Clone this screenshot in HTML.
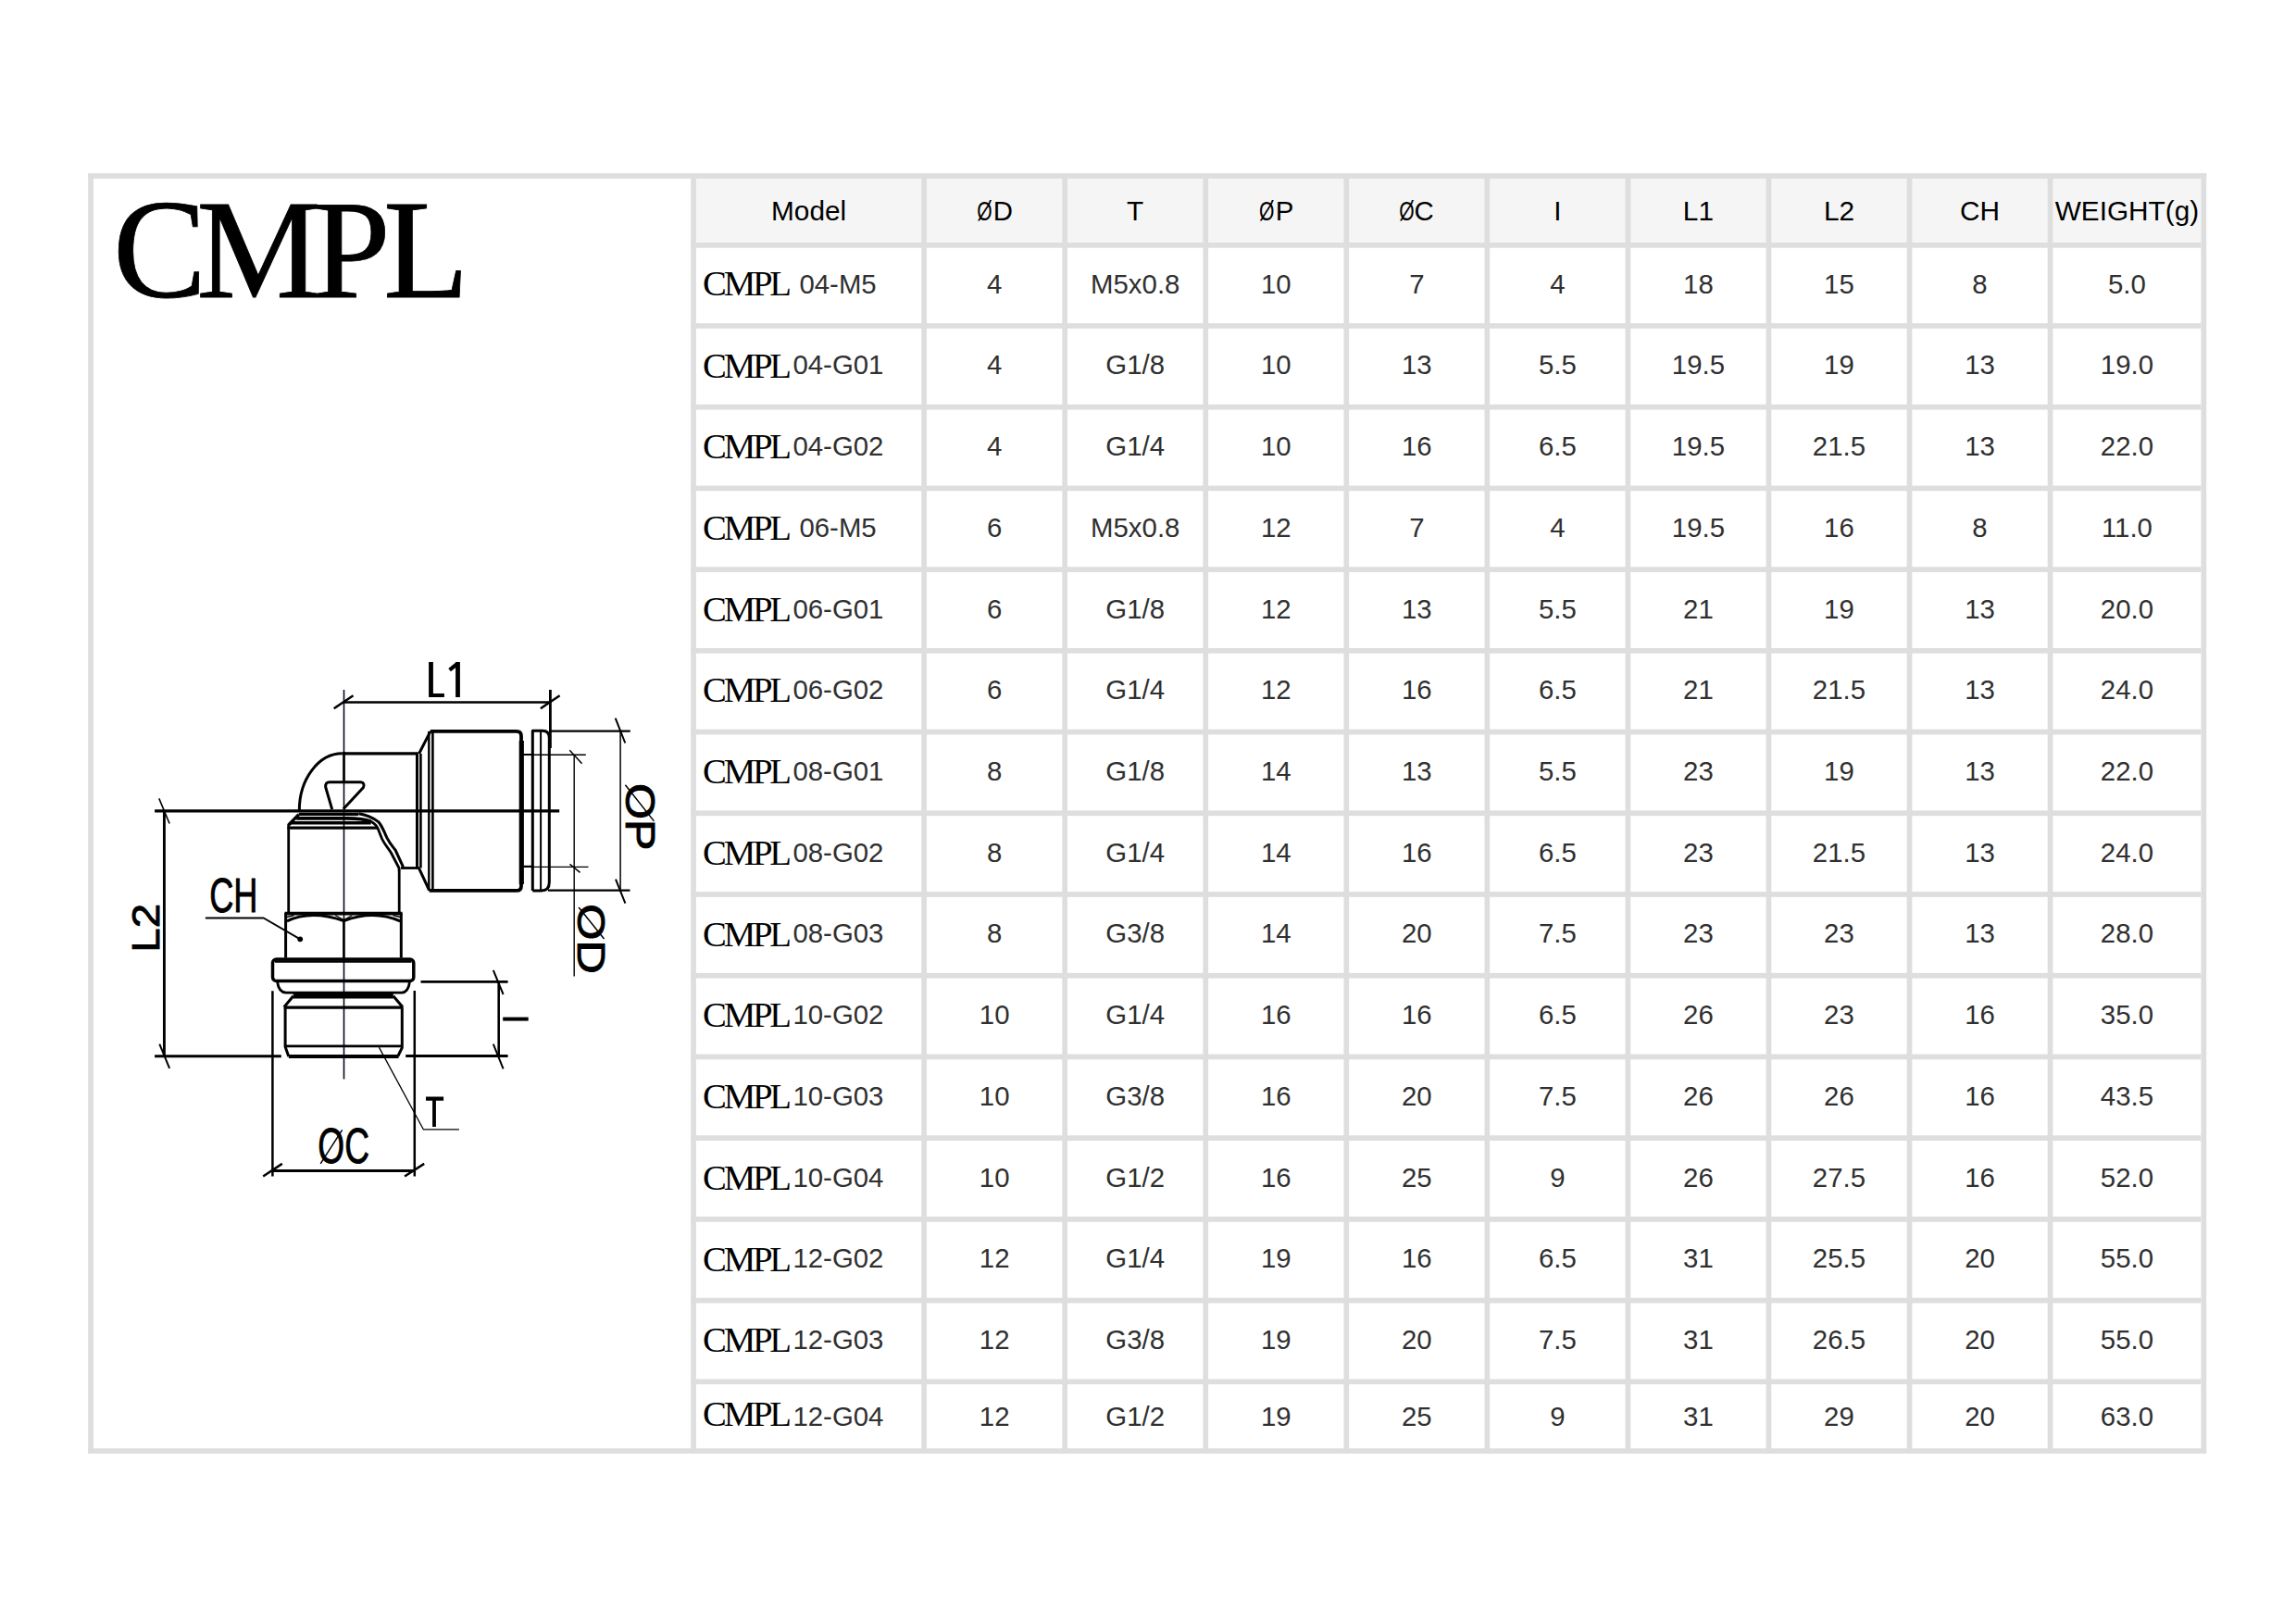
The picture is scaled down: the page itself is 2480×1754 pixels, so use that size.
<!DOCTYPE html>
<html><head><meta charset="utf-8"><title>CMPL</title>
<style>
html,body{margin:0;padding:0;background:#fff;}
body{width:2480px;height:1754px;overflow:hidden;position:relative;}
svg{position:absolute;left:0;top:0;}
.s{font-family:"Liberation Sans",sans-serif;}
.r{font-family:"Liberation Serif",serif;}
</style></head><body>
<svg width="2480" height="1754" viewBox="0 0 2480 1754">

<rect x="751.9" y="192.9" width="1625.6" height="69.1" fill="#f5f5f5"/>
<rect x="95.2" y="187.2" width="2288" height="5.7" fill="#dedede"/>
<rect x="95.2" y="1564.3" width="2288" height="5.7" fill="#dedede"/>
<rect x="95.2" y="187.2" width="5.7" height="1382.8" fill="#dedede"/>
<rect x="2377.5" y="187.2" width="5.7" height="1382.8" fill="#dedede"/>
<rect x="746.2" y="187.2" width="5.7" height="1382.8" fill="#dedede"/>
<rect x="995.3" y="187.2" width="5.7" height="1382.8" fill="#dedede"/>
<rect x="1147.35" y="187.2" width="5.7" height="1382.8" fill="#dedede"/>
<rect x="1299.4" y="187.2" width="5.7" height="1382.8" fill="#dedede"/>
<rect x="1451.45" y="187.2" width="5.7" height="1382.8" fill="#dedede"/>
<rect x="1603.5" y="187.2" width="5.7" height="1382.8" fill="#dedede"/>
<rect x="1755.55" y="187.2" width="5.7" height="1382.8" fill="#dedede"/>
<rect x="1907.6" y="187.2" width="5.7" height="1382.8" fill="#dedede"/>
<rect x="2059.65" y="187.2" width="5.7" height="1382.8" fill="#dedede"/>
<rect x="2211.7" y="187.2" width="5.7" height="1382.8" fill="#dedede"/>
<rect x="746.2" y="262" width="1631.3" height="5.7" fill="#dedede"/>
<rect x="746.2" y="349.1" width="1631.3" height="5.7" fill="#dedede"/>
<rect x="746.2" y="436.82" width="1631.3" height="5.7" fill="#dedede"/>
<rect x="746.2" y="524.54" width="1631.3" height="5.7" fill="#dedede"/>
<rect x="746.2" y="612.26" width="1631.3" height="5.7" fill="#dedede"/>
<rect x="746.2" y="699.98" width="1631.3" height="5.7" fill="#dedede"/>
<rect x="746.2" y="787.7" width="1631.3" height="5.7" fill="#dedede"/>
<rect x="746.2" y="875.42" width="1631.3" height="5.7" fill="#dedede"/>
<rect x="746.2" y="963.14" width="1631.3" height="5.7" fill="#dedede"/>
<rect x="746.2" y="1050.86" width="1631.3" height="5.7" fill="#dedede"/>
<rect x="746.2" y="1138.58" width="1631.3" height="5.7" fill="#dedede"/>
<rect x="746.2" y="1226.3" width="1631.3" height="5.7" fill="#dedede"/>
<rect x="746.2" y="1314.02" width="1631.3" height="5.7" fill="#dedede"/>
<rect x="746.2" y="1401.74" width="1631.3" height="5.7" fill="#dedede"/>
<rect x="746.2" y="1489.46" width="1631.3" height="5.7" fill="#dedede"/>
<text class="r" x="122 212.2 337.5 414" y="321" font-size="151.5" fill="#000" stroke="#000" stroke-width="0.8">CMPL</text>
<text class="s" transform="translate(873.6,238.2) scale(1,1.02)" font-size="29.8" text-anchor="middle" fill="#000">Model</text>
<text class="s" transform="translate(1055.16,238.2) scale(0.718,1.02)" font-size="29.4" fill="#000">Ø</text>
<text class="s" transform="translate(1072.77,238.2) scale(1,1.02)" font-size="29.4" fill="#000">D</text>
<text class="s" transform="translate(1226.22,238.2) scale(1,1.02)" font-size="29.8" text-anchor="middle" fill="#000">T</text>
<text class="s" transform="translate(1360.06,238.2) scale(0.718,1.02)" font-size="29.4" fill="#000">Ø</text>
<text class="s" transform="translate(1377.67,238.2) scale(1,1.02)" font-size="29.4" fill="#000">P</text>
<text class="s" transform="translate(1511.16,238.2) scale(0.718,1.02)" font-size="29.4" fill="#000">Ø</text>
<text class="s" transform="translate(1527.4,238.2) scale(1,1.02)" font-size="29.4" fill="#000">C</text>
<text class="s" transform="translate(1682.38,238.2) scale(1,1.02)" font-size="29.8" text-anchor="middle" fill="#000">I</text>
<text class="s" transform="translate(1834.42,238.2) scale(1,1.02)" font-size="29.8" text-anchor="middle" fill="#000">L1</text>
<text class="s" transform="translate(1986.47,238.2) scale(1,1.02)" font-size="29.8" text-anchor="middle" fill="#000">L2</text>
<text class="s" transform="translate(2138.52,238.2) scale(1,1.02)" font-size="29.8" text-anchor="middle" fill="#000">CH</text>
<text class="s" transform="translate(2297.45,238.2) scale(1,1.02)" font-size="29.8" text-anchor="middle" fill="#000">WEIGHT(g)</text>
<text class="r" x="759" y="318.8" font-size="38.8" letter-spacing="-3.2" fill="#000">CMPL</text>
<text class="s" transform="translate(863.4,316.8) scale(1,1.02)" font-size="29.4" fill="#303030">04-M5</text>
<text class="s" transform="translate(1074.17,316.8) scale(1,1.02)" font-size="29.4" text-anchor="middle" fill="#303030">4</text>
<text class="s" transform="translate(1226.22,316.8) scale(1,1.02)" font-size="29.4" text-anchor="middle" fill="#303030">M5x0.8</text>
<text class="s" transform="translate(1378.28,316.8) scale(1,1.02)" font-size="29.4" text-anchor="middle" fill="#303030">10</text>
<text class="s" transform="translate(1530.33,316.8) scale(1,1.02)" font-size="29.4" text-anchor="middle" fill="#303030">7</text>
<text class="s" transform="translate(1682.38,316.8) scale(1,1.02)" font-size="29.4" text-anchor="middle" fill="#303030">4</text>
<text class="s" transform="translate(1834.42,316.8) scale(1,1.02)" font-size="29.4" text-anchor="middle" fill="#303030">18</text>
<text class="s" transform="translate(1986.47,316.8) scale(1,1.02)" font-size="29.4" text-anchor="middle" fill="#303030">15</text>
<text class="s" transform="translate(2138.52,316.8) scale(1,1.02)" font-size="29.4" text-anchor="middle" fill="#303030">8</text>
<text class="s" transform="translate(2297.45,316.8) scale(1,1.02)" font-size="29.4" text-anchor="middle" fill="#303030">5.0</text>
<text class="r" x="759" y="407.6" font-size="38.8" letter-spacing="-3.2" fill="#000">CMPL</text>
<text class="s" transform="translate(856.4,404.4) scale(1,1.02)" font-size="29.4" fill="#303030">04-G01</text>
<text class="s" transform="translate(1074.17,404.4) scale(1,1.02)" font-size="29.4" text-anchor="middle" fill="#303030">4</text>
<text class="s" transform="translate(1226.22,404.4) scale(1,1.02)" font-size="29.4" text-anchor="middle" fill="#303030">G1/8</text>
<text class="s" transform="translate(1378.28,404.4) scale(1,1.02)" font-size="29.4" text-anchor="middle" fill="#303030">10</text>
<text class="s" transform="translate(1530.33,404.4) scale(1,1.02)" font-size="29.4" text-anchor="middle" fill="#303030">13</text>
<text class="s" transform="translate(1682.38,404.4) scale(1,1.02)" font-size="29.4" text-anchor="middle" fill="#303030">5.5</text>
<text class="s" transform="translate(1834.42,404.4) scale(1,1.02)" font-size="29.4" text-anchor="middle" fill="#303030">19.5</text>
<text class="s" transform="translate(1986.47,404.4) scale(1,1.02)" font-size="29.4" text-anchor="middle" fill="#303030">19</text>
<text class="s" transform="translate(2138.52,404.4) scale(1,1.02)" font-size="29.4" text-anchor="middle" fill="#303030">13</text>
<text class="s" transform="translate(2297.45,404.4) scale(1,1.02)" font-size="29.4" text-anchor="middle" fill="#303030">19.0</text>
<text class="r" x="759" y="495.32" font-size="38.8" letter-spacing="-3.2" fill="#000">CMPL</text>
<text class="s" transform="translate(856.4,492.12) scale(1,1.02)" font-size="29.4" fill="#303030">04-G02</text>
<text class="s" transform="translate(1074.17,492.12) scale(1,1.02)" font-size="29.4" text-anchor="middle" fill="#303030">4</text>
<text class="s" transform="translate(1226.22,492.12) scale(1,1.02)" font-size="29.4" text-anchor="middle" fill="#303030">G1/4</text>
<text class="s" transform="translate(1378.28,492.12) scale(1,1.02)" font-size="29.4" text-anchor="middle" fill="#303030">10</text>
<text class="s" transform="translate(1530.33,492.12) scale(1,1.02)" font-size="29.4" text-anchor="middle" fill="#303030">16</text>
<text class="s" transform="translate(1682.38,492.12) scale(1,1.02)" font-size="29.4" text-anchor="middle" fill="#303030">6.5</text>
<text class="s" transform="translate(1834.42,492.12) scale(1,1.02)" font-size="29.4" text-anchor="middle" fill="#303030">19.5</text>
<text class="s" transform="translate(1986.47,492.12) scale(1,1.02)" font-size="29.4" text-anchor="middle" fill="#303030">21.5</text>
<text class="s" transform="translate(2138.52,492.12) scale(1,1.02)" font-size="29.4" text-anchor="middle" fill="#303030">13</text>
<text class="s" transform="translate(2297.45,492.12) scale(1,1.02)" font-size="29.4" text-anchor="middle" fill="#303030">22.0</text>
<text class="r" x="759" y="583.04" font-size="38.8" letter-spacing="-3.2" fill="#000">CMPL</text>
<text class="s" transform="translate(863.4,579.84) scale(1,1.02)" font-size="29.4" fill="#303030">06-M5</text>
<text class="s" transform="translate(1074.17,579.84) scale(1,1.02)" font-size="29.4" text-anchor="middle" fill="#303030">6</text>
<text class="s" transform="translate(1226.22,579.84) scale(1,1.02)" font-size="29.4" text-anchor="middle" fill="#303030">M5x0.8</text>
<text class="s" transform="translate(1378.28,579.84) scale(1,1.02)" font-size="29.4" text-anchor="middle" fill="#303030">12</text>
<text class="s" transform="translate(1530.33,579.84) scale(1,1.02)" font-size="29.4" text-anchor="middle" fill="#303030">7</text>
<text class="s" transform="translate(1682.38,579.84) scale(1,1.02)" font-size="29.4" text-anchor="middle" fill="#303030">4</text>
<text class="s" transform="translate(1834.42,579.84) scale(1,1.02)" font-size="29.4" text-anchor="middle" fill="#303030">19.5</text>
<text class="s" transform="translate(1986.47,579.84) scale(1,1.02)" font-size="29.4" text-anchor="middle" fill="#303030">16</text>
<text class="s" transform="translate(2138.52,579.84) scale(1,1.02)" font-size="29.4" text-anchor="middle" fill="#303030">8</text>
<text class="s" transform="translate(2297.45,579.84) scale(1,1.02)" font-size="29.4" text-anchor="middle" fill="#303030">11.0</text>
<text class="r" x="759" y="670.76" font-size="38.8" letter-spacing="-3.2" fill="#000">CMPL</text>
<text class="s" transform="translate(856.4,667.56) scale(1,1.02)" font-size="29.4" fill="#303030">06-G01</text>
<text class="s" transform="translate(1074.17,667.56) scale(1,1.02)" font-size="29.4" text-anchor="middle" fill="#303030">6</text>
<text class="s" transform="translate(1226.22,667.56) scale(1,1.02)" font-size="29.4" text-anchor="middle" fill="#303030">G1/8</text>
<text class="s" transform="translate(1378.28,667.56) scale(1,1.02)" font-size="29.4" text-anchor="middle" fill="#303030">12</text>
<text class="s" transform="translate(1530.33,667.56) scale(1,1.02)" font-size="29.4" text-anchor="middle" fill="#303030">13</text>
<text class="s" transform="translate(1682.38,667.56) scale(1,1.02)" font-size="29.4" text-anchor="middle" fill="#303030">5.5</text>
<text class="s" transform="translate(1834.42,667.56) scale(1,1.02)" font-size="29.4" text-anchor="middle" fill="#303030">21</text>
<text class="s" transform="translate(1986.47,667.56) scale(1,1.02)" font-size="29.4" text-anchor="middle" fill="#303030">19</text>
<text class="s" transform="translate(2138.52,667.56) scale(1,1.02)" font-size="29.4" text-anchor="middle" fill="#303030">13</text>
<text class="s" transform="translate(2297.45,667.56) scale(1,1.02)" font-size="29.4" text-anchor="middle" fill="#303030">20.0</text>
<text class="r" x="759" y="758.48" font-size="38.8" letter-spacing="-3.2" fill="#000">CMPL</text>
<text class="s" transform="translate(856.4,755.28) scale(1,1.02)" font-size="29.4" fill="#303030">06-G02</text>
<text class="s" transform="translate(1074.17,755.28) scale(1,1.02)" font-size="29.4" text-anchor="middle" fill="#303030">6</text>
<text class="s" transform="translate(1226.22,755.28) scale(1,1.02)" font-size="29.4" text-anchor="middle" fill="#303030">G1/4</text>
<text class="s" transform="translate(1378.28,755.28) scale(1,1.02)" font-size="29.4" text-anchor="middle" fill="#303030">12</text>
<text class="s" transform="translate(1530.33,755.28) scale(1,1.02)" font-size="29.4" text-anchor="middle" fill="#303030">16</text>
<text class="s" transform="translate(1682.38,755.28) scale(1,1.02)" font-size="29.4" text-anchor="middle" fill="#303030">6.5</text>
<text class="s" transform="translate(1834.42,755.28) scale(1,1.02)" font-size="29.4" text-anchor="middle" fill="#303030">21</text>
<text class="s" transform="translate(1986.47,755.28) scale(1,1.02)" font-size="29.4" text-anchor="middle" fill="#303030">21.5</text>
<text class="s" transform="translate(2138.52,755.28) scale(1,1.02)" font-size="29.4" text-anchor="middle" fill="#303030">13</text>
<text class="s" transform="translate(2297.45,755.28) scale(1,1.02)" font-size="29.4" text-anchor="middle" fill="#303030">24.0</text>
<text class="r" x="759" y="846.2" font-size="38.8" letter-spacing="-3.2" fill="#000">CMPL</text>
<text class="s" transform="translate(856.4,843) scale(1,1.02)" font-size="29.4" fill="#303030">08-G01</text>
<text class="s" transform="translate(1074.17,843) scale(1,1.02)" font-size="29.4" text-anchor="middle" fill="#303030">8</text>
<text class="s" transform="translate(1226.22,843) scale(1,1.02)" font-size="29.4" text-anchor="middle" fill="#303030">G1/8</text>
<text class="s" transform="translate(1378.28,843) scale(1,1.02)" font-size="29.4" text-anchor="middle" fill="#303030">14</text>
<text class="s" transform="translate(1530.33,843) scale(1,1.02)" font-size="29.4" text-anchor="middle" fill="#303030">13</text>
<text class="s" transform="translate(1682.38,843) scale(1,1.02)" font-size="29.4" text-anchor="middle" fill="#303030">5.5</text>
<text class="s" transform="translate(1834.42,843) scale(1,1.02)" font-size="29.4" text-anchor="middle" fill="#303030">23</text>
<text class="s" transform="translate(1986.47,843) scale(1,1.02)" font-size="29.4" text-anchor="middle" fill="#303030">19</text>
<text class="s" transform="translate(2138.52,843) scale(1,1.02)" font-size="29.4" text-anchor="middle" fill="#303030">13</text>
<text class="s" transform="translate(2297.45,843) scale(1,1.02)" font-size="29.4" text-anchor="middle" fill="#303030">22.0</text>
<text class="r" x="759" y="933.92" font-size="38.8" letter-spacing="-3.2" fill="#000">CMPL</text>
<text class="s" transform="translate(856.4,930.72) scale(1,1.02)" font-size="29.4" fill="#303030">08-G02</text>
<text class="s" transform="translate(1074.17,930.72) scale(1,1.02)" font-size="29.4" text-anchor="middle" fill="#303030">8</text>
<text class="s" transform="translate(1226.22,930.72) scale(1,1.02)" font-size="29.4" text-anchor="middle" fill="#303030">G1/4</text>
<text class="s" transform="translate(1378.28,930.72) scale(1,1.02)" font-size="29.4" text-anchor="middle" fill="#303030">14</text>
<text class="s" transform="translate(1530.33,930.72) scale(1,1.02)" font-size="29.4" text-anchor="middle" fill="#303030">16</text>
<text class="s" transform="translate(1682.38,930.72) scale(1,1.02)" font-size="29.4" text-anchor="middle" fill="#303030">6.5</text>
<text class="s" transform="translate(1834.42,930.72) scale(1,1.02)" font-size="29.4" text-anchor="middle" fill="#303030">23</text>
<text class="s" transform="translate(1986.47,930.72) scale(1,1.02)" font-size="29.4" text-anchor="middle" fill="#303030">21.5</text>
<text class="s" transform="translate(2138.52,930.72) scale(1,1.02)" font-size="29.4" text-anchor="middle" fill="#303030">13</text>
<text class="s" transform="translate(2297.45,930.72) scale(1,1.02)" font-size="29.4" text-anchor="middle" fill="#303030">24.0</text>
<text class="r" x="759" y="1021.64" font-size="38.8" letter-spacing="-3.2" fill="#000">CMPL</text>
<text class="s" transform="translate(856.4,1018.44) scale(1,1.02)" font-size="29.4" fill="#303030">08-G03</text>
<text class="s" transform="translate(1074.17,1018.44) scale(1,1.02)" font-size="29.4" text-anchor="middle" fill="#303030">8</text>
<text class="s" transform="translate(1226.22,1018.44) scale(1,1.02)" font-size="29.4" text-anchor="middle" fill="#303030">G3/8</text>
<text class="s" transform="translate(1378.28,1018.44) scale(1,1.02)" font-size="29.4" text-anchor="middle" fill="#303030">14</text>
<text class="s" transform="translate(1530.33,1018.44) scale(1,1.02)" font-size="29.4" text-anchor="middle" fill="#303030">20</text>
<text class="s" transform="translate(1682.38,1018.44) scale(1,1.02)" font-size="29.4" text-anchor="middle" fill="#303030">7.5</text>
<text class="s" transform="translate(1834.42,1018.44) scale(1,1.02)" font-size="29.4" text-anchor="middle" fill="#303030">23</text>
<text class="s" transform="translate(1986.47,1018.44) scale(1,1.02)" font-size="29.4" text-anchor="middle" fill="#303030">23</text>
<text class="s" transform="translate(2138.52,1018.44) scale(1,1.02)" font-size="29.4" text-anchor="middle" fill="#303030">13</text>
<text class="s" transform="translate(2297.45,1018.44) scale(1,1.02)" font-size="29.4" text-anchor="middle" fill="#303030">28.0</text>
<text class="r" x="759" y="1109.36" font-size="38.8" letter-spacing="-3.2" fill="#000">CMPL</text>
<text class="s" transform="translate(856.4,1106.16) scale(1,1.02)" font-size="29.4" fill="#303030">10-G02</text>
<text class="s" transform="translate(1074.17,1106.16) scale(1,1.02)" font-size="29.4" text-anchor="middle" fill="#303030">10</text>
<text class="s" transform="translate(1226.22,1106.16) scale(1,1.02)" font-size="29.4" text-anchor="middle" fill="#303030">G1/4</text>
<text class="s" transform="translate(1378.28,1106.16) scale(1,1.02)" font-size="29.4" text-anchor="middle" fill="#303030">16</text>
<text class="s" transform="translate(1530.33,1106.16) scale(1,1.02)" font-size="29.4" text-anchor="middle" fill="#303030">16</text>
<text class="s" transform="translate(1682.38,1106.16) scale(1,1.02)" font-size="29.4" text-anchor="middle" fill="#303030">6.5</text>
<text class="s" transform="translate(1834.42,1106.16) scale(1,1.02)" font-size="29.4" text-anchor="middle" fill="#303030">26</text>
<text class="s" transform="translate(1986.47,1106.16) scale(1,1.02)" font-size="29.4" text-anchor="middle" fill="#303030">23</text>
<text class="s" transform="translate(2138.52,1106.16) scale(1,1.02)" font-size="29.4" text-anchor="middle" fill="#303030">16</text>
<text class="s" transform="translate(2297.45,1106.16) scale(1,1.02)" font-size="29.4" text-anchor="middle" fill="#303030">35.0</text>
<text class="r" x="759" y="1197.08" font-size="38.8" letter-spacing="-3.2" fill="#000">CMPL</text>
<text class="s" transform="translate(856.4,1193.88) scale(1,1.02)" font-size="29.4" fill="#303030">10-G03</text>
<text class="s" transform="translate(1074.17,1193.88) scale(1,1.02)" font-size="29.4" text-anchor="middle" fill="#303030">10</text>
<text class="s" transform="translate(1226.22,1193.88) scale(1,1.02)" font-size="29.4" text-anchor="middle" fill="#303030">G3/8</text>
<text class="s" transform="translate(1378.28,1193.88) scale(1,1.02)" font-size="29.4" text-anchor="middle" fill="#303030">16</text>
<text class="s" transform="translate(1530.33,1193.88) scale(1,1.02)" font-size="29.4" text-anchor="middle" fill="#303030">20</text>
<text class="s" transform="translate(1682.38,1193.88) scale(1,1.02)" font-size="29.4" text-anchor="middle" fill="#303030">7.5</text>
<text class="s" transform="translate(1834.42,1193.88) scale(1,1.02)" font-size="29.4" text-anchor="middle" fill="#303030">26</text>
<text class="s" transform="translate(1986.47,1193.88) scale(1,1.02)" font-size="29.4" text-anchor="middle" fill="#303030">26</text>
<text class="s" transform="translate(2138.52,1193.88) scale(1,1.02)" font-size="29.4" text-anchor="middle" fill="#303030">16</text>
<text class="s" transform="translate(2297.45,1193.88) scale(1,1.02)" font-size="29.4" text-anchor="middle" fill="#303030">43.5</text>
<text class="r" x="759" y="1284.8" font-size="38.8" letter-spacing="-3.2" fill="#000">CMPL</text>
<text class="s" transform="translate(856.4,1281.6) scale(1,1.02)" font-size="29.4" fill="#303030">10-G04</text>
<text class="s" transform="translate(1074.17,1281.6) scale(1,1.02)" font-size="29.4" text-anchor="middle" fill="#303030">10</text>
<text class="s" transform="translate(1226.22,1281.6) scale(1,1.02)" font-size="29.4" text-anchor="middle" fill="#303030">G1/2</text>
<text class="s" transform="translate(1378.28,1281.6) scale(1,1.02)" font-size="29.4" text-anchor="middle" fill="#303030">16</text>
<text class="s" transform="translate(1530.33,1281.6) scale(1,1.02)" font-size="29.4" text-anchor="middle" fill="#303030">25</text>
<text class="s" transform="translate(1682.38,1281.6) scale(1,1.02)" font-size="29.4" text-anchor="middle" fill="#303030">9</text>
<text class="s" transform="translate(1834.42,1281.6) scale(1,1.02)" font-size="29.4" text-anchor="middle" fill="#303030">26</text>
<text class="s" transform="translate(1986.47,1281.6) scale(1,1.02)" font-size="29.4" text-anchor="middle" fill="#303030">27.5</text>
<text class="s" transform="translate(2138.52,1281.6) scale(1,1.02)" font-size="29.4" text-anchor="middle" fill="#303030">16</text>
<text class="s" transform="translate(2297.45,1281.6) scale(1,1.02)" font-size="29.4" text-anchor="middle" fill="#303030">52.0</text>
<text class="r" x="759" y="1372.52" font-size="38.8" letter-spacing="-3.2" fill="#000">CMPL</text>
<text class="s" transform="translate(856.4,1369.32) scale(1,1.02)" font-size="29.4" fill="#303030">12-G02</text>
<text class="s" transform="translate(1074.17,1369.32) scale(1,1.02)" font-size="29.4" text-anchor="middle" fill="#303030">12</text>
<text class="s" transform="translate(1226.22,1369.32) scale(1,1.02)" font-size="29.4" text-anchor="middle" fill="#303030">G1/4</text>
<text class="s" transform="translate(1378.28,1369.32) scale(1,1.02)" font-size="29.4" text-anchor="middle" fill="#303030">19</text>
<text class="s" transform="translate(1530.33,1369.32) scale(1,1.02)" font-size="29.4" text-anchor="middle" fill="#303030">16</text>
<text class="s" transform="translate(1682.38,1369.32) scale(1,1.02)" font-size="29.4" text-anchor="middle" fill="#303030">6.5</text>
<text class="s" transform="translate(1834.42,1369.32) scale(1,1.02)" font-size="29.4" text-anchor="middle" fill="#303030">31</text>
<text class="s" transform="translate(1986.47,1369.32) scale(1,1.02)" font-size="29.4" text-anchor="middle" fill="#303030">25.5</text>
<text class="s" transform="translate(2138.52,1369.32) scale(1,1.02)" font-size="29.4" text-anchor="middle" fill="#303030">20</text>
<text class="s" transform="translate(2297.45,1369.32) scale(1,1.02)" font-size="29.4" text-anchor="middle" fill="#303030">55.0</text>
<text class="r" x="759" y="1460.24" font-size="38.8" letter-spacing="-3.2" fill="#000">CMPL</text>
<text class="s" transform="translate(856.4,1457.04) scale(1,1.02)" font-size="29.4" fill="#303030">12-G03</text>
<text class="s" transform="translate(1074.17,1457.04) scale(1,1.02)" font-size="29.4" text-anchor="middle" fill="#303030">12</text>
<text class="s" transform="translate(1226.22,1457.04) scale(1,1.02)" font-size="29.4" text-anchor="middle" fill="#303030">G3/8</text>
<text class="s" transform="translate(1378.28,1457.04) scale(1,1.02)" font-size="29.4" text-anchor="middle" fill="#303030">19</text>
<text class="s" transform="translate(1530.33,1457.04) scale(1,1.02)" font-size="29.4" text-anchor="middle" fill="#303030">20</text>
<text class="s" transform="translate(1682.38,1457.04) scale(1,1.02)" font-size="29.4" text-anchor="middle" fill="#303030">7.5</text>
<text class="s" transform="translate(1834.42,1457.04) scale(1,1.02)" font-size="29.4" text-anchor="middle" fill="#303030">31</text>
<text class="s" transform="translate(1986.47,1457.04) scale(1,1.02)" font-size="29.4" text-anchor="middle" fill="#303030">26.5</text>
<text class="s" transform="translate(2138.52,1457.04) scale(1,1.02)" font-size="29.4" text-anchor="middle" fill="#303030">20</text>
<text class="s" transform="translate(2297.45,1457.04) scale(1,1.02)" font-size="29.4" text-anchor="middle" fill="#303030">55.0</text>
<text class="r" x="759" y="1539.76" font-size="38.8" letter-spacing="-3.2" fill="#000">CMPL</text>
<text class="s" transform="translate(856.4,1539.76) scale(1,1.02)" font-size="29.4" fill="#303030">12-G04</text>
<text class="s" transform="translate(1074.17,1539.76) scale(1,1.02)" font-size="29.4" text-anchor="middle" fill="#303030">12</text>
<text class="s" transform="translate(1226.22,1539.76) scale(1,1.02)" font-size="29.4" text-anchor="middle" fill="#303030">G1/2</text>
<text class="s" transform="translate(1378.28,1539.76) scale(1,1.02)" font-size="29.4" text-anchor="middle" fill="#303030">19</text>
<text class="s" transform="translate(1530.33,1539.76) scale(1,1.02)" font-size="29.4" text-anchor="middle" fill="#303030">25</text>
<text class="s" transform="translate(1682.38,1539.76) scale(1,1.02)" font-size="29.4" text-anchor="middle" fill="#303030">9</text>
<text class="s" transform="translate(1834.42,1539.76) scale(1,1.02)" font-size="29.4" text-anchor="middle" fill="#303030">31</text>
<text class="s" transform="translate(1986.47,1539.76) scale(1,1.02)" font-size="29.4" text-anchor="middle" fill="#303030">29</text>
<text class="s" transform="translate(2138.52,1539.76) scale(1,1.02)" font-size="29.4" text-anchor="middle" fill="#303030">20</text>
<text class="s" transform="translate(2297.45,1539.76) scale(1,1.02)" font-size="29.4" text-anchor="middle" fill="#303030">63.0</text>
<g fill="none" stroke="#000" stroke-linecap="butt" stroke-linejoin="round">
<!-- center axis (thin) -->
<path d="M371.5,745 V1165.4" stroke="#0c0c1e" stroke-width="1.6"/>
<path d="M371.5,812 V844" stroke-width="2.6"/>
<!-- horizontal axis / L2 top extension -->
<path d="M167.1,875.9 H604.2" stroke-width="3.4"/>
<!-- L2 dimension -->
<path d="M177.4,876 V1140.6" stroke-width="2.9"/>
<path d="M171.8,862.4 L183.1,889.5" stroke-width="1.6"/>
<path d="M172.3,1127.7 L183.1,1153.9" stroke-width="2"/>
<!-- bottom extension lines -->
<path d="M167.1,1140.7 H303.8 M438.2,1140.6 H548.6" stroke-width="3"/>
<!-- L1 dimension -->
<path d="M371.1,758.5 H594.3" stroke-width="2.4"/>
<path d="M360.7,765.2 L381.5,751.2 M583.9,765.2 L604.6,751.2" stroke-width="2.5"/>
<path d="M594.4,745 V808" stroke-width="2.8"/>
<!-- OP dimension -->
<path d="M593,789.6 H680.8 M592,961.6 H680.5" stroke-width="2.2"/>
<path d="M670.1,789.6 V961" stroke-width="1.5"/>
<path d="M664.7,775.7 L675.3,802.5 M665,949.7 L675.4,975.6" stroke-width="2"/>
<!-- OD dimension -->
<path d="M565.8,815.2 H632.8 M565.5,936.4 H635.5" stroke-width="1.4"/>
<path d="M620.2,815.2 V1054.6" stroke-width="1.4"/>
<path d="M615.3,810.3 L628.6,824.7 M615.5,933.4 L626.6,942.3" stroke-width="1.5"/>
<!-- I dimension -->
<path d="M454.5,1060.4 H548.6" stroke-width="2.6"/>
<path d="M538.7,1060.4 V1140.5" stroke-width="2.6"/>
<path d="M532.8,1047.9 L543.6,1074 M532.8,1127.7 L543.6,1154.3" stroke-width="2"/>
<!-- OC dimension -->
<path d="M294.4,1070.2 V1270.5 M447.8,1070 V1270.5" stroke-width="2.5"/>
<path d="M294.5,1264.5 H447.7" stroke-width="3.2"/>
<path d="M284.2,1270.5 L304.8,1256.9 M437.1,1270.5 L458.2,1256.9" stroke-width="2.5"/>
<!-- T leader -->
<path d="M409.4,1131.1 L457.3,1219.8 H495.9" stroke-width="1.3"/>
<!-- CH leader -->
<path d="M221.9,991.5 H284.7 L324.2,1014.3" stroke-width="2"/>
<!-- elbow -->
<path d="M369.8,813.8 H451.8" stroke-width="3.3"/>
<path d="M369.8,813.8 A46.5,61.5 0 0 0 323.3,875.3" stroke-width="3"/>
<!-- triangle marker -->
<path d="M358.7,874.2 L351.8,850.5 Q351,844.8 356,844.8 H389.5 Q394.5,845.5 392.5,850.5 L370.9,873.7" stroke-width="3"/>
<!-- vertical body top -->
<path d="M322.7,879.4 H387" stroke-width="3.2"/>
<path d="M320.2,883.9 H375 C385,884 395,885 400,887" stroke-width="3.6"/>
<path d="M312.9,888.8 H400.7" stroke-width="3.6"/>
<path d="M310.5,894.1 H408" stroke-width="3.4"/>
<path d="M311.7,891 L322.7,879.6" stroke-width="3.4"/>
<!-- saddle -->
<path d="M387.3,878.7 C396,880 404,884 408.7,887.6 C411,890 413,894 414.8,897.9 L417.8,904.6 C421,911 423,913 427,918 L435.5,936.3" stroke-width="3"/>
<path d="M399.5,886.5 C403,888.5 406,891 407.2,893 C408.5,895 409,897 409.6,898.5 L412.6,906 C415.5,912 418.5,915 422.4,921 L431,937.5 L431.2,940.6" stroke-width="2.8"/>
<!-- vertical body edges -->
<path d="M311.7,890 V986" stroke-width="2.8"/>
<path d="M431.2,939.6 V986" stroke-width="2.8"/>
<!-- neck -->
<path d="M433,937.5 H453" stroke-width="2.8"/>
<path d="M450.5,814 V937.5" stroke-width="3"/>
<path d="M454.4,814 V937.5" stroke-width="2.6"/>
<path d="M452.6,814 L464.9,789.9 M452.6,937.8 L463.6,961.5" stroke-width="3"/>
<!-- push-in body -->
<path d="M464.9,789.9 H558 Q563,789.9 563,795 V956.9 Q563,961.9 558,961.9 H463.6" stroke-width="3.8"/>
<path d="M563.3,800 V955" stroke-width="5.2"/>
<path d="M463.3,790 V962" stroke-width="2.4"/>
<path d="M467.4,790 V962" stroke-width="2.6"/>
<!-- step lines -->
<path d="M565.5,815 H575.2 M565.5,935.8 H575" stroke-width="2.2"/>
<!-- collet -->
<path d="M575.3,962 V789.3 H586 Q593.3,789.3 593.3,797 V953 Q593.3,962 584.6,962 H575.3" stroke-width="3"/>
<path d="M584.1,790 V962" stroke-width="2"/>
<!-- hex -->
<path d="M307.5,986.6 H434.5" stroke-width="3.6"/>
<path d="M308.6,986.2 V1034.5 M433.3,986.2 V1034.5" stroke-width="3"/>
<path d="M371.4,994.5 V1034.5" stroke-width="2.6"/>
<path d="M309.9,994.9 Q335.4,982.3 371.4,994.5 Q404,982.3 432.2,994.9" stroke-width="3"/>
<path d="M309.9,990.5 L317.7,988.5 M362,988.5 L371.4,993.5 L380.5,988.5 M424.5,988.5 L432.2,990.5" stroke-width="1.3"/>
<!-- flange -->
<rect x="294.5" y="1036" width="152.3" height="23.4" rx="4" stroke-width="3.5"/>
<path d="M297,1038.5 H444.5" stroke-width="2.4"/>
<!-- undercut -->
<path d="M299.7,1061 Q301,1071.5 309,1072.2 H434 Q441,1071.5 442.4,1061" stroke-width="2.8"/>
<path d="M316.8,1075.6 H424.8" stroke-width="6"/>
<!-- thread -->
<path d="M316.8,1075.7 L306.8,1087.7 M424.8,1075.7 L435,1087.7" stroke-width="3"/>
<path d="M306.8,1088.2 H435" stroke-width="3.2"/>
<path d="M308.1,1087.7 V1130.5 L311.8,1141 M434.3,1087.7 V1131.6 L429.9,1140.5" stroke-width="3"/>
<path d="M309,1129.9 H433.5" stroke-width="2.8"/>
<path d="M311.8,1141 H430.6" stroke-width="4"/>
</g>
<path d="M369.6,1220.4 L346.2,1256.9 M675.4,847.7 L706.4,886.9 M625.1,980 L652.5,1014" stroke="#000" stroke-width="1.5" fill="none"/>
<circle cx="324.2" cy="1014.3" r="2.9" fill="#000"/>
<rect x="543.2" y="1098.6" width="27.5" height="4" fill="#000"/>
<path d="M463.1,715 H467.9 V749 H479.9 V752.9 H463.1 Z M492.1,715 H496.9 V752.9 H492.1 Z" fill="#000"/>
<path d="M494.5,716.5 L485.6,723.6" stroke="#000" stroke-width="4.2" fill="none"/>
<path d="M460,1184.4 H479.1 V1188.8 H470.9 V1217.1 H467.1 V1188.8 H460 Z" fill="#000"/>
<g font-family="Liberation Sans, sans-serif" fill="#000" stroke="#000" stroke-width="0.9">
<text transform="translate(226.2,984.7) scale(0.696,1)" font-size="52">CH</text>
<text transform="translate(343.3,1256) scale(0.70,1)" font-size="53">OC</text>
<text transform="translate(171.9,1028.7) rotate(-90) scale(1.14,1)" font-size="41.7">L2</text>
<text transform="translate(675.6,845.9) rotate(90) scale(1.14,1)" font-size="44">OP</text>
<text transform="translate(623.6,976.2) rotate(90) scale(1.2,1)" font-size="42">OD</text>
</g>

</svg>
</body></html>
